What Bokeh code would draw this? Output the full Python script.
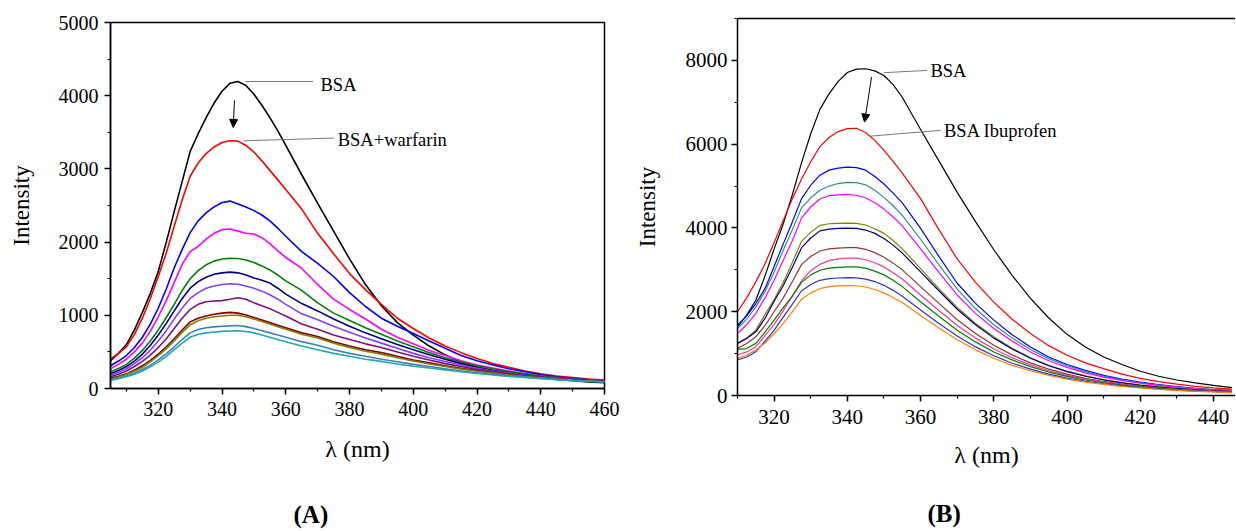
from bokeh.plotting import figure
from bokeh.layouts import row, column
from bokeh.models import (SingleIntervalTicker, Label, Arrow, NormalHead,
                          LinearAxis, FixedTicker, Range1d, Title)
from bokeh.embed import file_html
from bokeh.resources import INLINE

FONT = "Liberation Serif"

# ---------------- Panel A data (BSA + warfarin) ----------------
wl_a = [305, 307.5, 310, 312.5, 315, 317.5, 320, 322.5, 325, 327.5, 330, 332.5, 335, 337.5, 340,
        342.5, 345, 347.5, 350, 352.5, 355, 357.5, 360, 365, 370, 375, 380, 385, 390, 395, 400,
        405, 410, 415, 420, 425, 430, 435, 440, 445, 450, 455, 460]
a_bsa = [380, 480, 600, 800, 1040, 1300, 1600, 2000, 2420,
         2830, 3240, 3480, 3700, 3900, 4060, 4170, 4195, 4140, 4020, 3870, 3700, 3520,
         3320, 2920, 2530, 2150, 1770, 1420, 1130, 900, 730, 580, 460, 360, 290, 240, 205,
         175, 150, 125, 105, 90, 80]
a_w1 = [400, 480, 570, 740, 960, 1230, 1530, 1850, 2220,
        2580, 2900, 3080, 3210, 3300, 3360, 3385, 3380, 3320, 3230, 3110, 2980, 2850,
        2720, 2450, 2120, 1840, 1570, 1350, 1150, 960, 820, 690, 580, 490, 410, 340, 290,
        240, 200, 170, 150, 130, 115]
a_w2 = [310, 375, 450, 560, 700, 880, 1100, 1360, 1650,
        1900, 2130, 2290, 2400, 2480, 2540, 2560, 2520, 2480, 2430, 2370, 2290, 2190,
        2080, 1870, 1710, 1530, 1310, 1120, 960, 850, 750, 650, 550, 450, 380, 320, 270,
        230, 190, 160, 140, 120, 110]
a_w3 = [270, 330, 400, 500, 620, 780, 980, 1200, 1450,
        1700, 1870, 1940, 2040, 2120, 2170, 2180, 2150, 2120, 2110, 2060, 1980, 1880,
        1790, 1640, 1420, 1220, 1080, 950, 810, 700, 610, 520, 450, 380, 320, 280, 240,
        200, 170, 150, 130, 115, 105]
a_w4 = [230, 275, 330, 415, 520, 650, 800, 970, 1150,
        1340, 1500, 1610, 1690, 1740, 1770, 1780, 1775, 1755, 1720, 1675, 1620, 1550,
        1470, 1340, 1170, 1030, 930, 830, 740, 650, 570, 490, 420, 360, 310, 270, 230,
        200, 170, 150, 130, 115, 100]
a_w5 = [200, 245, 300, 375, 470, 590, 730, 890, 1060,
        1230, 1370, 1460, 1520, 1560, 1580, 1590, 1580, 1550, 1510, 1480, 1440, 1370,
        1290, 1160, 1060, 950, 850, 760, 680, 600, 530, 460, 400, 340, 290, 250, 215,
        185, 160, 140, 125, 110, 100]
a_w6 = [180, 220, 270, 340, 420, 525, 650, 790, 950,
        1100, 1230, 1310, 1370, 1400, 1420, 1430, 1425, 1400, 1370, 1330, 1280, 1220,
        1150, 1020, 940, 850, 770, 690, 620, 550, 480, 420, 370, 320, 275, 240, 210,
        180, 160, 140, 125, 110, 100]
a_w7 = [160, 195, 240, 300, 370, 455, 560, 680, 820,
        960, 1080, 1150, 1185, 1195, 1200, 1220, 1240, 1220, 1170, 1130, 1090, 1040,
        990, 880, 810, 730, 670, 610, 560, 500, 440, 390, 340, 300, 260, 230, 200,
        175, 155, 135, 120, 105, 95]
a_w8 = [140, 168, 200, 250, 310, 385, 470, 570, 680,
        800, 910, 960, 990, 1015, 1030, 1040, 1030, 1005, 970, 935, 900, 865,
        830, 760, 710, 640, 580, 530, 490, 440, 390, 350, 310, 275, 245, 215, 190,
        170, 150, 130, 115, 105, 95]
a_w9 = [130, 158, 190, 235, 290, 365, 450, 545, 650,
        765, 870, 925, 960, 980, 990, 1000, 1000, 980, 950, 915, 880, 845,
        810, 740, 690, 620, 560, 510, 470, 420, 375, 335, 300, 265, 235, 210, 185,
        165, 145, 128, 113, 103, 93]
a_w10 = [120, 143, 170, 210, 260, 320, 390, 475, 570,
         670, 760, 805, 830, 842, 850, 855, 860, 845, 820, 790, 760, 730,
         700, 640, 590, 530, 480, 440, 400, 365, 330, 300, 270, 240, 215, 195, 175,
         155, 140, 125, 110, 100, 90]
a_w11 = [110, 133, 160, 195, 240, 295, 360, 440, 530,
         620, 700, 740, 760, 772, 780, 786, 790, 778, 760, 730, 700, 670,
         640, 580, 530, 480, 440, 400, 370, 335, 305, 280, 255, 230, 205, 185, 165,
         150, 135, 120, 110, 100, 90]
series_a = [a_bsa, a_w1, a_w2, a_w3, a_w4, a_w5, a_w6, a_w7, a_w8, a_w9, a_w10, a_w11]
colors_a = ["#000000", "#FF0000", "#0000FF", "#FF00FF", "#008000", "#000080",
            "#8040FF", "#801080", "#800000", "#808000", "#3C80C0", "#20A8A8"]

# ---------------- Panel B data (BSA + ibuprofen) ----------------
wl_b = [310, 312.5, 315, 317.5, 320, 322.5, 325, 327.5, 330, 332.5, 335, 337.5, 340, 342.5, 345,
        347.5, 350, 352.5, 355, 360, 365, 370, 375, 380, 385, 390, 395, 400, 405, 410, 415,
        420, 425, 430, 435, 440, 445]
b_bsa = [1640, 1920, 2275, 2850, 3500, 4100, 4800,
         5560, 6250, 6830, 7200, 7500, 7710, 7790, 7800, 7750, 7640, 7420, 7120,
         6350, 5600, 4850, 4150, 3480, 2870, 2320, 1850, 1460, 1160, 920, 740, 580, 460,
         370, 300, 240, 190]
b_i1 = [2000, 2330, 2713, 3140, 3650, 4180, 4700,
        5170, 5580, 5940, 6160, 6300, 6370, 6380, 6280, 6090, 5850, 5590, 5310,
        4700, 3960, 3260, 2700, 2230, 1820, 1480, 1190, 960, 780, 640, 510, 410, 330,
        270, 220, 180, 150]
b_i2 = [1680, 1900, 2195, 2550, 3080, 3620, 4150,
        4700, 5020, 5260, 5380, 5430, 5450, 5440, 5380, 5230, 5050, 4830, 4600,
        3990, 3320, 2680, 2200, 1800, 1450, 1160, 920, 740, 600, 480, 390, 320, 260,
        210, 170, 140, 120]
b_i3 = [1600, 1820, 2116, 2480, 2950, 3470, 3960,
        4480, 4720, 4900, 5000, 5060, 5090, 5080, 5030, 4900, 4730, 4530, 4300,
        3730, 3120, 2540, 2070, 1690, 1370, 1100, 880, 710, 570, 460, 375, 305, 250,
        200, 165, 135, 115]
b_i4 = [1480, 1690, 1957, 2330, 2750, 3230, 3700,
        4240, 4500, 4690, 4770, 4790, 4800, 4780, 4720, 4600, 4450, 4260, 4050,
        3500, 2940, 2400, 1960, 1600, 1300, 1040, 830, 670, 540, 440, 360, 295, 240,
        195, 160, 130, 110]
b_i5 = [1244, 1370, 1561, 1930, 2290, 2700, 3180,
        3680, 3900, 4060, 4100, 4110, 4114, 4110, 4070, 3980, 3870, 3700, 3500,
        3030, 2550, 2100, 1720, 1400, 1130, 900, 720, 580, 470, 380, 310, 255, 210,
        170, 140, 115, 100]
b_i6 = [1244, 1360, 1521, 1840, 2250, 2620, 3060,
        3530, 3760, 3930, 3970, 3990, 3995, 3990, 3950, 3870, 3750, 3590, 3400,
        2950, 2500, 2060, 1690, 1370, 1110, 890, 710, 570, 460, 370, 300, 245, 200,
        165, 135, 110, 95]
b_i7 = [1125, 1240, 1402, 1670, 2000, 2330, 2720,
        3130, 3320, 3450, 3500, 3520, 3530, 3530, 3490, 3410, 3300, 3160, 3000,
        2600, 2200, 1810, 1480, 1200, 970, 780, 630, 510, 410, 335, 275, 225, 185,
        150, 125, 105, 90]
b_i8 = [966, 1040, 1164, 1430, 1700, 2020, 2380,
        2740, 2980, 3130, 3220, 3260, 3280, 3280, 3240, 3170, 3070, 2930, 2780,
        2400, 2030, 1670, 1370, 1110, 900, 730, 590, 480, 390, 320, 260, 215, 175,
        145, 120, 100, 85]
b_i9 = [1100, 1120, 1244, 1510, 1800, 2100, 2380,
        2700, 2880, 2990, 3040, 3060, 3070, 3070, 3040, 2970, 2880, 2750, 2600,
        2240, 1890, 1560, 1280, 1040, 850, 690, 560, 455, 370, 305, 250, 205, 170,
        140, 115, 95, 80]
b_i10 = [847, 920, 1046, 1290, 1560, 1870, 2180,
         2500, 2650, 2750, 2790, 2805, 2814, 2810, 2780, 2720, 2630, 2510, 2370,
         2040, 1720, 1420, 1160, 950, 770, 630, 510, 415, 340, 280, 230, 190, 155,
         130, 105, 90, 75]
b_i11 = [887, 960, 1085, 1250, 1480, 1720, 2000,
         2300, 2450, 2550, 2600, 2615, 2623, 2620, 2590, 2530, 2450, 2340, 2220,
         1910, 1610, 1330, 1090, 890, 720, 590, 480, 390, 320, 265, 215, 180, 145,
         120, 100, 85, 70]
series_b = [b_bsa, b_i1, b_i2, b_i3, b_i4, b_i5, b_i6, b_i7, b_i8, b_i9, b_i10, b_i11]
colors_b = ["#000000", "#FF0000", "#0000FF", "#2A9090", "#FF00FF", "#808000",
            "#000080", "#8B3A3A", "#FF3399", "#008000", "#3030C0", "#FF8000"]


def style(p, xint, yint, tsize):
    p.xgrid.visible = False
    p.ygrid.visible = False
    p.background_fill_color = "white"
    p.border_fill_color = "white"
    p.xaxis.ticker = SingleIntervalTicker(interval=xint, num_minor_ticks=2)
    p.yaxis.ticker = SingleIntervalTicker(interval=yint, num_minor_ticks=2)
    for ax in (p.xaxis[0], p.yaxis[0]):
        ax.axis_line_color = "black"
        ax.axis_line_width = 1.5
        ax.major_tick_line_color = "black"
        ax.minor_tick_line_color = "black"
        ax.major_tick_line_width = 1.5
        ax.minor_tick_line_width = 1.2
        ax.major_tick_in = 0
        ax.major_tick_out = 6
        ax.minor_tick_in = 0
        ax.minor_tick_out = 3
        ax.major_label_text_font = FONT
        ax.major_label_text_font_size = tsize
        ax.major_label_text_color = "black"
        ax.axis_label_text_font = FONT
        ax.axis_label_text_font_style = "normal"
        ax.axis_label_text_color = "black"
    p.xaxis.axis_label = "λ (nm)"
    p.yaxis.axis_label = "Intensity"
    p.xaxis.axis_label_text_font_size = "24px"
    p.yaxis.axis_label_text_font_size = "23px"


def panel_tag(p, text, offset, gap):
    # invisible spacer pushes the panel tag further below the axis label
    p.add_layout(Title(text="\u00a0", standoff=gap, text_font=FONT, text_font_size="10px",
                       text_color="white"), "below")
    p.add_layout(Title(text=text, align="left", offset=offset, standoff=0,
                       text_font=FONT, text_font_size="25px", text_font_style="bold",
                       text_color="black"), "below")


# ---------------- Figure A ----------------
pA = figure(width=620, height=530, x_range=Range1d(305, 460), y_range=Range1d(0, 5000),
            output_backend="svg", toolbar_location=None,
            min_border_left=110, min_border_right=16, min_border_top=22, min_border_bottom=142)
style(pA, 20, 1000, "20px")
pA.outline_line_color = "black"
pA.outline_line_width = 1.5
pA.outline_line_alpha = 1.0
pA.xaxis.major_label_standoff = 7
pA.yaxis.major_label_standoff = 6
pA.xaxis.axis_label_standoff = 17
pA.yaxis.axis_label_standoff = 22

for ys, c in zip(series_a, colors_a):
    pA.line(wl_a, ys, line_color=c, line_width=1.6)

pA.line([347.4, 368.5], [4194, 4194], line_color="#777777", line_width=1)
pA.line([346.8, 375.1], [3384, 3421], line_color="#777777", line_width=1)
pA.add_layout(Arrow(end=NormalHead(size=8, fill_color="black", line_color="black"),
                    x_start=343.9, y_start=3934, x_end=343.5, y_end=3566,
                    line_color="black", line_width=1))
pA.add_layout(Label(x=370.9, y=4149, text="BSA", text_baseline="middle",
                    text_font=FONT, text_font_size="18.5px", text_color="black"))
pA.add_layout(Label(x=376.3, y=3393, text="BSA+warfarin", text_baseline="middle",
                    text_font=FONT, text_font_size="18.5px", text_color="black"))
panel_tag(pA, "(A)", 183, 21)

# ---------------- Figure B ----------------
pB = figure(width=615, height=530, x_range=Range1d(310, 446), y_range=Range1d(0, 9000),
            output_backend="svg", toolbar_location=None,
            min_border_left=117, min_border_right=0, min_border_top=18, min_border_bottom=135)
style(pB, 20, 2000, "21px")
pB.outline_line_color = None
pB.xaxis.major_label_standoff = 8
pB.yaxis.major_label_standoff = 4
pB.xaxis.axis_label_standoff = 15
pB.yaxis.axis_label_standoff = 23
top_axis = LinearAxis(ticker=FixedTicker(ticks=[]), axis_line_color="black", axis_line_width=1.5,
                      major_tick_out=0, major_tick_in=0, minor_tick_out=0, minor_tick_in=0,
                      major_label_standoff=0, major_label_text_font_size="0px")
pB.add_layout(top_axis, "above")

for ys, c in zip(series_b, colors_b):
    pB.line(wl_b, ys, line_color=c, line_width=1.2)

pB.line([350.0, 361.8], [7706, 7761], line_color="#777777", line_width=1)
pB.line([346.4, 365.5], [6193, 6329], line_color="#777777", line_width=1)
pB.add_layout(Arrow(end=NormalHead(size=8, fill_color="black", line_color="black"),
                    x_start=346.6, y_start=7601, x_end=344.7, y_end=6527,
                    line_color="black", line_width=1))
pB.add_layout(Label(x=362.7, y=7745, text="BSA", text_baseline="middle",
                    text_font=FONT, text_font_size="18.5px", text_color="black"))
pB.add_layout(Label(x=366.4, y=6313, text="BSA Ibuprofen", text_baseline="middle",
                    text_font=FONT, text_font_size="18.5px", text_color="black"))
panel_tag(pB, "(B)", 190, 14)

layout = row(column(pA), column(pB))
open("out.html", "w").write(file_html(layout, INLINE))
